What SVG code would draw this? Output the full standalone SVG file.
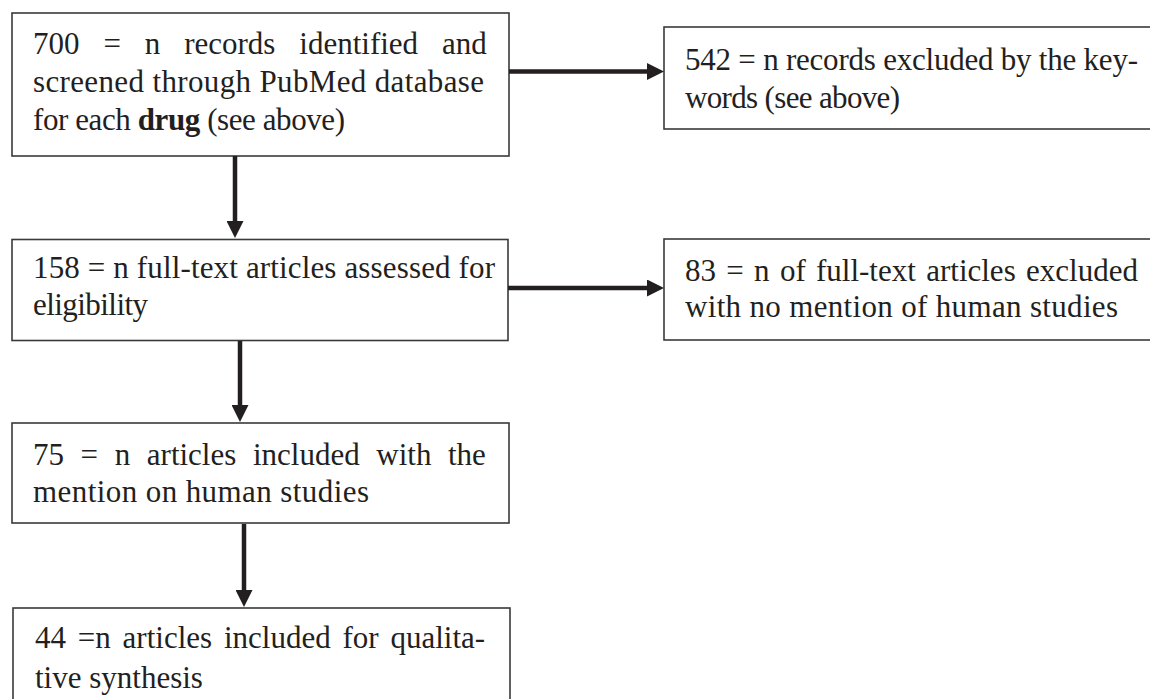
<svg xmlns="http://www.w3.org/2000/svg" width="1150" height="699" viewBox="0 0 1150 699">
<style>
.box{fill:#ffffff;stroke:#3a3a3a;stroke-width:1.6}
.t{font-family:"Liberation Serif","Times New Roman",serif;font-size:31px;fill:#231f20}
.b{font-weight:bold}
.arr{stroke:#231f20;stroke-width:4.5;fill:none;marker-end:url(#ah)}
</style>
<defs>
<marker id="ah" markerUnits="userSpaceOnUse" markerWidth="17" markerHeight="17" refX="11" refY="8.5" orient="auto">
<path d="M0,0 L17,8.5 L0,17 Z" fill="#231f20"/>
</marker>
</defs>
<rect width="1150" height="699" fill="#ffffff"/>
<g id="n1">
<rect class="box" x="12" y="13" width="497" height="143"/>
<text class="t" y="54"><tspan x="33">700</tspan><tspan x="103.4">=</tspan><tspan x="144.8">n</tspan><tspan x="184.2">records</tspan><tspan x="299.3">identified</tspan><tspan x="442.1">and</tspan></text>
<text class="t" x="33" y="92" textLength="451">screened through PubMed database</text>
<text class="t" x="33" y="130" textLength="312">for each <tspan class="b">drug</tspan> (see above)</text>
</g>
<g id="n2">
<rect class="box" x="664" y="27" width="520" height="102"/>
<text class="t" x="685" y="70" textLength="453">542 = n records excluded by the key-</text>
<text class="t" x="685" y="108" textLength="215">words (see above)</text>
</g>
<g id="n3">
<rect class="box" x="12" y="239.5" width="496" height="101"/>
<text class="t" x="33" y="278" textLength="462">158 = n full-text articles assessed for</text>
<text class="t" x="33" y="315" textLength="115">eligibility</text>
</g>
<g id="n4">
<rect class="box" x="664" y="239" width="520" height="101"/>
<text class="t" y="281"><tspan x="685">83</tspan><tspan x="726.3">=</tspan><tspan x="754.1">n</tspan><tspan x="779.9">of</tspan><tspan x="816">full-text</tspan><tspan x="926.2">articles</tspan><tspan x="1026">excluded</tspan></text>
<text class="t" x="685" y="317" textLength="433">with no mention of human studies</text>
</g>
<g id="n5">
<rect class="box" x="12" y="423" width="497" height="100"/>
<text class="t" y="465"><tspan x="33">75</tspan><tspan x="80.6">=</tspan><tspan x="114.7">n</tspan><tspan x="146.8">articles</tspan><tspan x="252.9">included</tspan><tspan x="376.3">with</tspan><tspan x="448">the</tspan></text>
<text class="t" x="33" y="502" textLength="336">mention on human studies</text>
</g>
<g id="n6">
<rect class="box" x="13" y="608" width="497" height="110"/>
<text class="t" y="648"><tspan x="35">44</tspan><tspan x="77.8">=n</tspan><tspan x="122.6">articles</tspan><tspan x="223.9">included</tspan><tspan x="342.5">for</tspan><tspan x="390.4">qualita-</tspan></text>
<text class="t" x="35" y="688">tive synthesis</text>
</g>
<g id="connectors">
<line class="arr" x1="509" y1="71.5" x2="658" y2="71.5"/>
<line class="arr" x1="235" y1="156" x2="235" y2="232"/>
<line class="arr" x1="508" y1="288" x2="658" y2="288"/>
<line class="arr" x1="240" y1="341" x2="240" y2="416"/>
<line class="arr" x1="244" y1="524" x2="244" y2="601"/>
</g>
</svg>
